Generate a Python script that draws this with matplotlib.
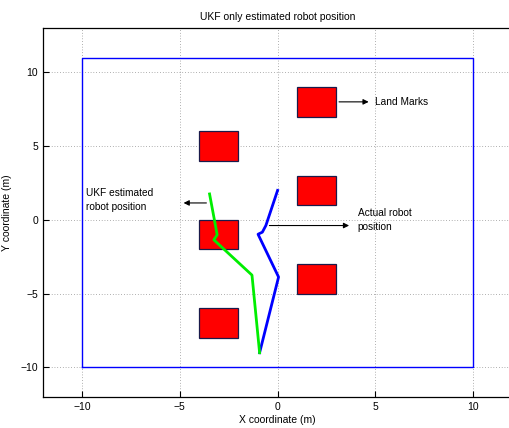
import numpy as np
import matplotlib
matplotlib.use("Agg")
import matplotlib.pyplot as plt
from matplotlib.patches import Rectangle

# ---------- data ----------
landmark_x = [-3, -3, -3, 2, 2, 2]
landmark_y = [5, -1, -7, 8, 2, -4]
landmark_size = 2.0

arena_x = [-10, 10, 10, -10, -10]
arena_y = [-10, -10, 11, 11, -10]

actual_x = [0.0, -0.6, -0.78, -1.0, 0.05, -0.92]
actual_y = [2.0, -0.38, -0.83, -0.97, -3.87, -9.0]

ukf_x = [-3.48, -3.09, -3.26, -1.31, -0.92]
ukf_y = [1.76, -1.01, -1.35, -3.74, -9.0]

x_ticks = [-10, -5, 0, 5, 10]
y_ticks = [-10, -5, 0, 5, 10]

# ---------- plot ----------
plt.rcParams["font.family"] = ["Liberation Sans", "DejaVu Sans"]
fig = plt.figure(figsize=(5.10, 4.28), dpi=100)
ax = fig.add_axes([0.0843, 0.0724, 0.92, 0.862])

ax.plot(arena_x, arena_y, color="#0000ff", lw=1.0)
for cx, cy in zip(landmark_x, landmark_y):
    ax.add_patch(Rectangle((cx - landmark_size / 2, cy - landmark_size / 2),
                           landmark_size, landmark_size,
                           facecolor="#ff0000", edgecolor="#1a1a4a", lw=0.9, zorder=3))

ax.plot(actual_x, actual_y, color="#0000ff", lw=2.0, zorder=4)
ax.plot(ukf_x, ukf_y, color="#00ee00", lw=2.0, zorder=4)

arrow = dict(arrowstyle="-|>", color="black", lw=0.8, mutation_scale=8)
ax.annotate("", xy=(4.8, 8), xytext=(3, 8), arrowprops=arrow)
ax.text(5.0, 8, "Land Marks", fontsize=7.3, va="center", ha="left")
ax.annotate("", xy=(3.8, -0.38), xytext=(-0.56, -0.38), arrowprops=arrow)
ax.text(4.1, 0.0, "Actual robot\nposition", fontsize=7.3, va="center", ha="left",
        linespacing=1.4)
ax.annotate("", xy=(-4.95, 1.15), xytext=(-3.5, 1.15), arrowprops=arrow)
ax.text(-9.8, 1.35, "UKF estimated\nrobot position", fontsize=7.3, va="center", ha="left",
        linespacing=1.4)

ax.set_xlim(-12, 12)
ax.set_ylim(-12, 13)
ax.set_xticks(x_ticks)
ax.set_yticks(y_ticks)
ax.tick_params(labelsize=7.5, direction="in", length=4, width=0.8)
ax.grid(True, linestyle=(0, (1, 3)), color="#666666", lw=0.5)
for s in ax.spines.values():
    s.set_linewidth(0.9)

ax.set_xlabel("X coordinate (m)", fontsize=7.5, labelpad=2)
ax.set_ylabel("Y coordinate (m)", fontsize=7.5, labelpad=6)
ax.set_title("UKF only estimated robot position", fontsize=7.5, pad=6)

fig.savefig("out.png", dpi=100)
